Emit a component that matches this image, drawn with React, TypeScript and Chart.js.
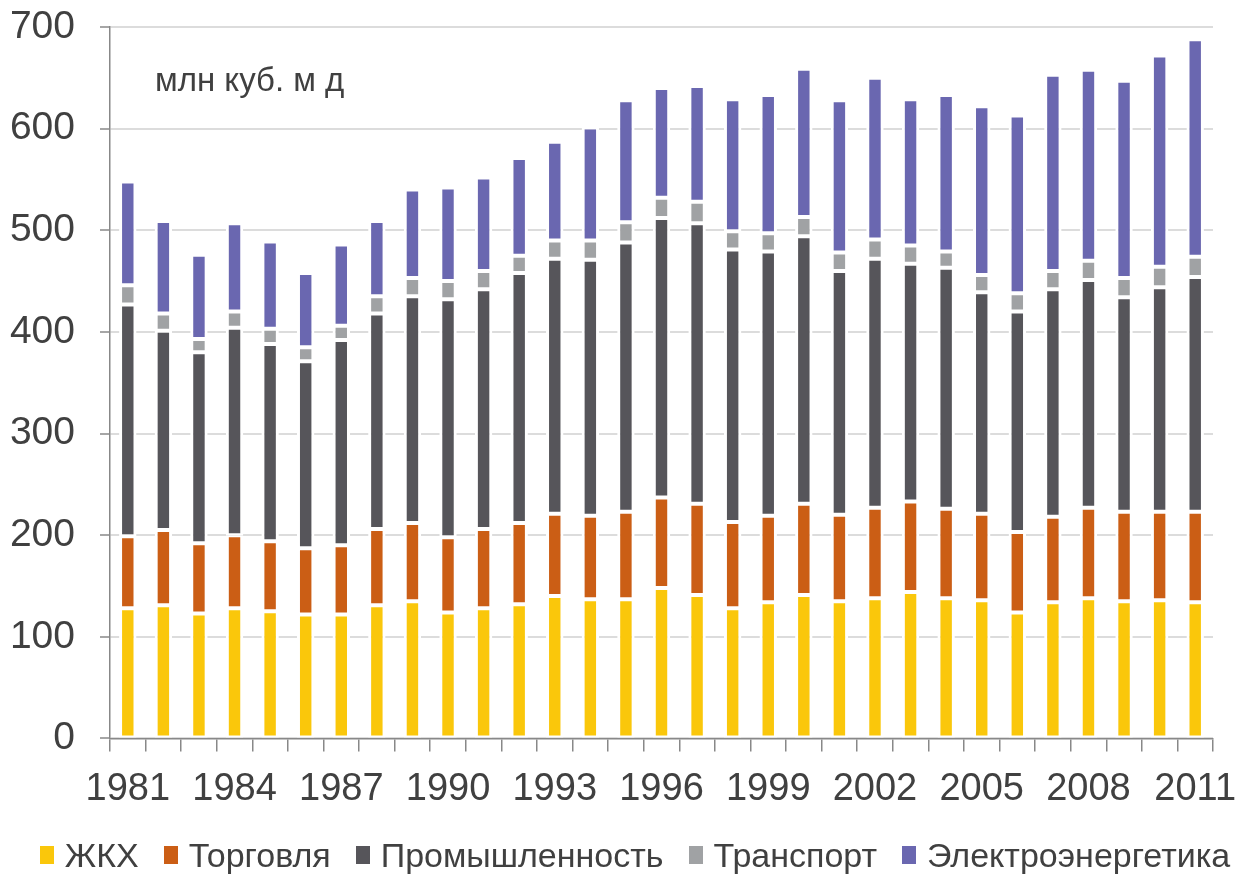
import { useEffect, useRef } from 'react';
import { Chart, registerables } from 'chart.js';

Chart.register(...registerables);

const years = [
  1981, 1982, 1983, 1984, 1985, 1986, 1987, 1988, 1989, 1990,
  1991, 1992, 1993, 1994, 1995, 1996, 1997, 1998, 1999, 2000,
  2001, 2002, 2003, 2004, 2005, 2006, 2007, 2008, 2009, 2010, 2011,
];

const zhkh = [128, 131, 123, 128, 125, 122, 122, 131, 135, 124, 128, 132, 140, 137, 137, 148, 141, 128, 134, 141, 135, 138, 144, 138, 136, 124, 134, 138, 135, 136, 134];
const torgovlya = [71, 74, 69, 72, 69, 65, 68, 75, 77, 74, 78, 80, 81, 82, 86, 89, 90, 85, 85, 90, 85, 89, 89, 88, 85, 79, 84, 89, 88, 87, 89];
const promyshlennost = [228, 196, 188, 204, 194, 184, 202, 212, 223, 234, 236, 246, 251, 252, 265, 275, 276, 268, 260, 263, 240, 245, 234, 237, 218, 217, 224, 224, 211, 221, 231];
const transport = [19, 17, 13, 16, 15, 14, 14, 17, 18, 18, 18, 17, 18, 19, 20, 20, 21, 18, 18, 19, 18, 19, 18, 16, 17, 18, 18, 19, 19, 20, 20];
const elektro = [102, 91, 83, 87, 86, 73, 80, 74, 87, 92, 92, 96, 97, 111, 120, 108, 114, 130, 136, 146, 150, 159, 144, 154, 166, 175, 193, 188, 194, 208, 214];

const seriesNames = ['ЖКХ', 'Торговля', 'Промышленность', 'Транспорт', 'Электроэнергетика'];
const seriesColors = ['#FAC70B', '#CB5E15', '#56555A', '#A0A2A4', '#6A67B0'];

const yMin = 0;
const yMax = 700;
const yStep = 100;
const labelEvery = 3;
const unitLabel = 'млн куб. м д';

const FONT = "'Liberation Sans', Arial, sans-serif";
const TEXT = '#404040';
const AXIS = '#888888';

export default function App() {
  const ref = useRef<HTMLCanvasElement>(null);

  useEffect(() => {
    const values = [zhkh, torgovlya, promyshlennost, transport, elektro];
    const chart = new Chart(ref.current as HTMLCanvasElement, {
      type: 'bar',
      data: {
        labels: years.map(String),
        datasets: seriesNames.map((name, i) => ({
          label: name,
          data: values[i],
          backgroundColor: seriesColors[i],
          borderColor: '#ffffff',
          borderWidth: { top: 2, bottom: 2, left: 3, right: 3 },
          borderSkipped: false,
          barPercentage: 0.49,
          categoryPercentage: 1,
        })),
      },
      options: {
        responsive: false,
        animation: false,
        devicePixelRatio: 1,
        layout: { padding: { left: 10, right: 33, top: 27, bottom: 50 } },
        plugins: {
          legend: { display: false },
          tooltip: { enabled: false },
        },
        scales: {
          x: {
            stacked: true,
            z: 1,
            grid: {
              display: true,
              drawOnChartArea: false,
              drawTicks: true,
              tickLength: 13,
              color: AXIS,
              lineWidth: 1.5,
            },
            border: { display: true, color: AXIS, width: 1.5 },
            ticks: {
              autoSkip: false,
              maxRotation: 0,
              minRotation: 0,
              padding: 15,
              color: TEXT,
              font: { family: FONT, size: 38 },
              callback: (_v: any, i: number) =>
                (years[i] - years[0]) % labelEvery === 0 ? String(years[i]) : '',
            },
            afterFit: (s: any) => {
              s.paddingLeft = 0;
              s.paddingRight = 0;
            },
          },
          y: {
            stacked: true,
            min: yMin,
            max: yMax,
            ticks: {
              stepSize: yStep,
              padding: 25,
              color: TEXT,
              font: { family: FONT, size: 39 },
            },
            grid: {
              color: '#DCDCDC',
              lineWidth: 2,
              tickColor: AXIS,
              tickLength: 10,
              tickWidth: 1.5,
            },
            border: { display: true, color: AXIS, width: 1.5 },
            afterFit: (s: any) => {
              s.width = 100;
              s.paddingTop = 0;
              s.paddingBottom = 0;
            },
          },
        },
      },
    } as any);
    return () => chart.destroy();
  }, []);

  return (
    <div style={{ position: 'absolute', left: 0, top: 0, width: 1246, height: 877, background: '#fff', overflow: 'hidden' }}>
      <canvas ref={ref} width={1246} height={877} style={{ display: 'block' }} />
      <div
        style={{
          position: 'absolute',
          left: 155,
          top: 63,
          fontFamily: FONT,
          fontSize: 33,
          lineHeight: '33px',
          color: TEXT,
          whiteSpace: 'nowrap',
        }}
      >
        {unitLabel}
      </div>
      <div
        style={{
          position: 'absolute',
          left: 12,
          top: 838,
          width: 1246,
          height: 34,
          display: 'flex',
          justifyContent: 'center',
          alignItems: 'center',
          gap: 25,
          fontFamily: FONT,
          fontSize: 34,
          lineHeight: '34px',
          color: TEXT,
          whiteSpace: 'nowrap',
        }}
      >
        {seriesNames.map((name, i) => (
          <div key={name} style={{ display: 'flex', alignItems: 'center' }}>
            <span style={{ display: 'inline-block', width: 14, height: 18, background: seriesColors[i], marginRight: 11 }} />
            <span>{name}</span>
          </div>
        ))}
      </div>
    </div>
  );
}
